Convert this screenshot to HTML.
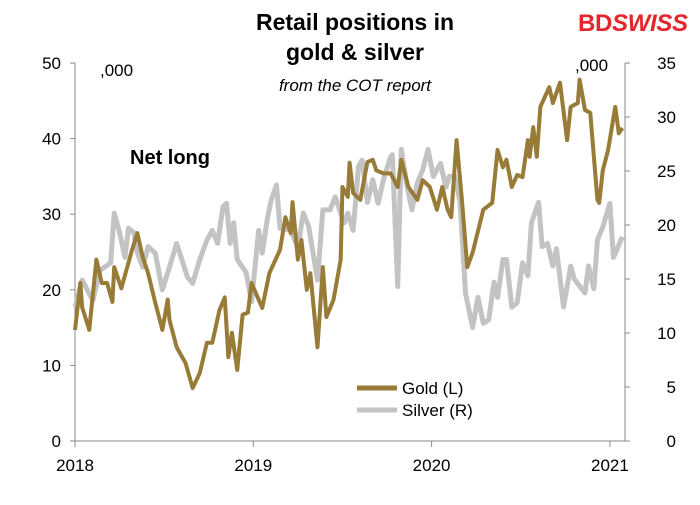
<!DOCTYPE html>
<html><head><meta charset="utf-8"><style>
body{margin:0;background:#fff;font-family:"Liberation Sans",sans-serif;}
svg text{font-family:"Liberation Sans",sans-serif;}
</style></head><body>
<svg id="c" width="700" height="500">
<text x="355" y="30" font-size="23" font-weight="bold" text-anchor="middle">Retail positions in</text>
<text x="355" y="60" font-size="23" font-weight="bold" text-anchor="middle">gold &amp; silver</text>
<text x="355" y="91" font-size="17" font-style="italic" text-anchor="middle">from the COT report</text>
<text x="578" y="31" font-size="24" font-weight="bold" fill="#e4262a" textLength="110">BD<tspan font-weight="bold" font-style="italic">SWISS</tspan></text>
<text x="100" y="76" font-size="17">,000</text>
<text x="575" y="71" font-size="17">,000</text>
<text x="130" y="164" font-size="20" font-weight="bold">Net long</text>
<g id="axes"></g>
<g id="series"></g>
<line x1="357" y1="388" x2="397" y2="388" stroke="#977b37" stroke-width="5"/>
<text x="402" y="394" font-size="17">Gold (L)</text>
<line x1="357" y1="410" x2="397" y2="410" stroke="#c3c3c3" stroke-width="5"/>
<text x="402" y="416" font-size="17">Silver (R)</text>
</svg>
<script>
const goldDates=[0,.03,.04,.08,.12,.15,.18,.21,.22,.26,.32,.35,.38,.41,.45,.49,.52,.53,.57,.62,.66,.70,.74,.77,.81,.84,.86,.88,.91,.94,.97,.99,1.05,1.09,1.15,1.18,1.21,1.22,1.25,1.27,1.30,1.32,1.36,1.39,1.41,1.45,1.49,1.50,1.53,1.54,1.56,1.60,1.64,1.67,1.69,1.73,1.77,1.81,1.83,1.87,1.92,1.95,1.99,2.03,2.06,2.09,2.11,2.14,2.17,2.20,2.23,2.29,2.34,2.37,2.40,2.42,2.45,2.48,2.51,2.54,2.55,2.57,2.59,2.61,2.66,2.68,2.72,2.76,2.78,2.82,2.83,2.86,2.89,2.93,2.94,2.96,2.99,3.03,3.05,3.07];
const goldValues=[14.7,20.9,17.7,14.7,24,20.9,20.9,18.4,23,20.2,25.3,27.5,24.3,22.2,18.3,14.7,18.7,16,12.4,10.3,7,9,13,13,17.3,19,11.1,14.3,9.4,16.7,17,20.9,17.6,22.2,25.3,29.6,27.5,31.6,24,26.6,20,22.2,12.4,23,16.4,18.7,24,33.6,32.3,36.8,32.8,31.9,36.9,37.2,35.8,35.4,35.4,33.6,37.2,33.6,31.9,34.5,33.6,30.6,33.6,30.6,29.6,39.8,31.9,23,24.9,30.6,31.5,38.5,36.2,37.2,33.6,35.2,34.9,39.8,37.6,41.5,37.6,44.2,46.8,44.7,47.4,39.8,44.2,44.7,47.8,43.8,43.4,31.9,31.5,35.8,38.5,44.2,40.7,41.4];
const silverDates=[0,.04,.10,.14,.20,.22,.25,.28,.30,.33,.35,.38,.41,.45,.49,.53,.57,.63,.66,.70,.74,.77,.80,.83,.85,.87,.89,.91,.96,.99,1.03,1.05,1.08,1.10,1.13,1.15,1.21,1.25,1.28,1.31,1.36,1.39,1.43,1.46,1.49,1.51,1.53,1.56,1.59,1.61,1.64,1.67,1.70,1.73,1.77,1.78,1.81,1.83,1.86,1.89,1.92,1.95,1.98,2.01,2.05,2.08,2.10,2.13,2.16,2.19,2.23,2.26,2.29,2.32,2.35,2.37,2.40,2.42,2.45,2.48,2.51,2.54,2.56,2.60,2.62,2.65,2.68,2.70,2.74,2.78,2.80,2.86,2.88,2.91,2.93,2.96,3.00,3.02,3.07];
const silverValues=[12.4,14.9,13,15.8,16.5,21.1,19.3,17,19.7,19.3,17.4,16.1,18,17.4,14,16.1,18.3,15.2,14.6,16.8,18.6,19.5,18.3,21.7,22,18.3,20.2,16.8,15.6,12.9,19.5,17.4,20.7,22.3,23.7,19.7,19.5,17.9,21.1,19.9,14.9,21.4,21.4,22.6,21.1,20.2,21.1,19.5,25.4,26,22.1,24.2,22,24.2,26.3,26.5,14.3,27,23.8,21.4,23.9,25.1,27,24.5,25.7,23.5,24.5,24.5,22.1,13.7,10.5,13.3,10.9,11.2,14.7,13.3,16.8,16.8,12.4,12.8,16.5,15.3,20.2,22.1,18,18.3,16.2,17.8,12.4,16.2,15,13.7,16.2,14.1,18.6,19.8,22,17,18.9];
const leftTicks=[0,10,20,30,40,50];
const rightTicks=[0,5,10,15,20,25,30,35];
const yearLabels=["2018","2019","2020","2021"];
const X0=75,PXY=178.3,Y0=441,TOP=63;
const xs=d=>X0+d*PXY;
const yL=v=>Y0-(Y0-TOP)*v/50;
const yR=v=>Y0-(Y0-TOP)*v/35;
const NS="http://www.w3.org/2000/svg";
function mk(t,a,p){const e=document.createElementNS(NS,t);for(const k in a)e.setAttribute(k,a[k]);p.appendChild(e);return e;}
const ax=document.getElementById('axes');
let e=mk('line',{x1:X0,y1:TOP,x2:X0,y2:Y0,stroke:'#888','stroke-width':1},ax);


e=mk('line',{x1:625,y1:TOP,x2:625,y2:Y0,stroke:'#888','stroke-width':1},ax);


e=mk('line',{x1:X0,y1:Y0,x2:625,y2:Y0,stroke:'#888','stroke-width':1},ax);


leftTicks.forEach(v=>{const y=yL(v);
 mk('line',{x1:X0-5,y1:y,x2:X0,y2:y,stroke:'#888'},ax);
 const t=mk('text',{x:61,y:y+6,'font-size':17,'text-anchor':'end'},ax);t.textContent=v;
 
 });
rightTicks.forEach(v=>{const y=yR(v);
 mk('line',{x1:625,y1:y,x2:630,y2:y,stroke:'#888'},ax);
 const t=mk('text',{x:676,y:y+6,'font-size':17,'text-anchor':'end'},ax);t.textContent=v;
 
 });
yearLabels.forEach((l,i)=>{const x=xs(i);
 mk('line',{x1:x,y1:Y0,x2:x,y2:Y0+6,stroke:'#888'},ax);
 const t=mk('text',{x:x,y:471,'font-size':17,'text-anchor':'middle'},ax);t.textContent=l;
 
 });
const sg=document.getElementById('series');
let p=mk('polyline',{points:silverDates.map((d,i)=>xs(d)+','+yR(silverValues[i])).join(' '),fill:'none',stroke:'#c3c3c3','stroke-width':5,'stroke-linejoin':'round'},sg);


p=mk('polyline',{points:goldDates.map((d,i)=>xs(d)+','+yL(goldValues[i])).join(' '),fill:'none',stroke:'#977b37','stroke-width':4,'stroke-linejoin':'round'},sg);


</script>
</body></html>
